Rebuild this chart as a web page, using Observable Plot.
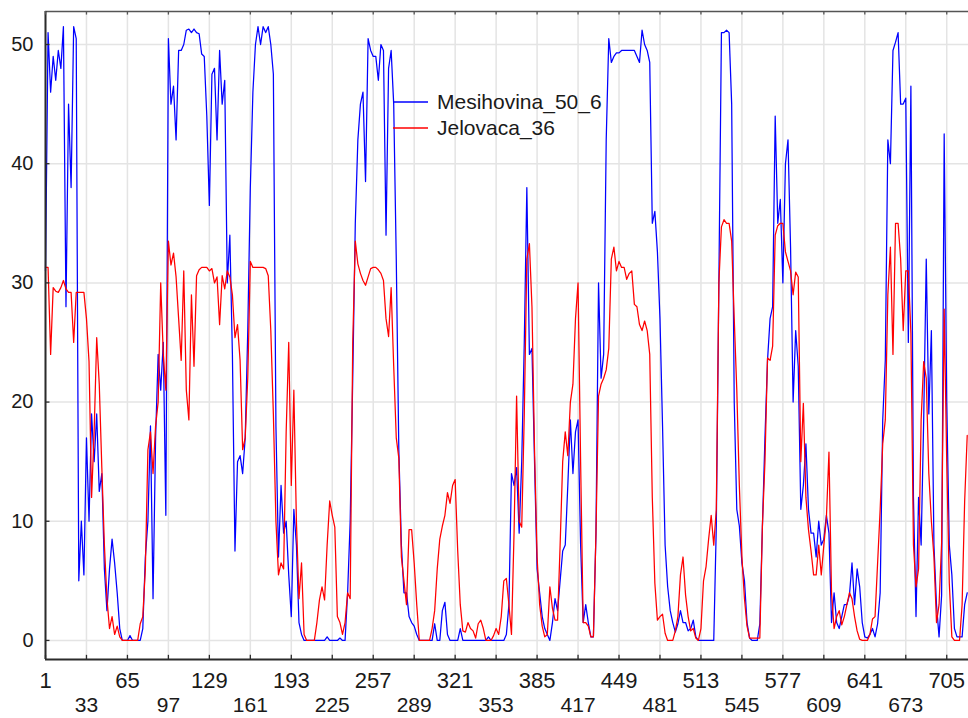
<!DOCTYPE html>
<html>
<head>
<meta charset="utf-8">
<script src="https://cdn.jsdelivr.net/npm/d3@7"></script>
<script src="https://cdn.jsdelivr.net/npm/@observablehq/plot@0.6"></script>
<style>
  html, body { margin: 0; padding: 0; background: #ffffff; }
  #chart { width: 968px; height: 718px; }
</style>
</head>
<body>
<div id="chart"></div>
<script>
// Series names
const seriesNames = ["Mesihovina_50_6", "Jelovaca_36"];

// Observation numbers (every second observation, 1..721)
const obsIndex = d3.range(1, 722, 2);

// Mesihovina_50_6 (blue) values
const mesihovina = [
  31, 51, 46, 49, 47, 49.5, 48, 51.5, 28, 45,
  38, 51.5, 50.5, 5, 10, 5.5, 17, 10, 19, 15,
  19, 12.5, 14, 6, 2.5, 6, 8.5, 6.5, 4, 1,
  0, 0, 0, 0.4, 0, 0, 0, 0, 1, 7,
  10, 18, 3.5, 17, 24, 21, 25, 10.5, 50.5, 45,
  46.5, 42, 49.5, 49.5, 50, 51.2, 51.3, 51, 51.3, 51,
  50.9, 49.2, 49, 44, 36.5, 47.5, 48, 42, 49.5, 45,
  47, 30, 34, 24, 7.5, 15, 15.5, 14, 17, 26,
  38, 46, 50, 51.5, 50, 51.5, 51, 51.5, 50, 47.5,
  18, 7, 13, 9, 10, 5.5, 2, 11, 8, 1.5,
  0.5, 0, 0, 0, 0, 0, 0, 0, 0, 0,
  0.3, 0, 0, 0, 0, 0.2, 0, 0, 4, 10,
  22, 35, 42, 45, 46, 38.5, 50.5, 49.5, 49, 49,
  47, 50, 49.5, 34, 48, 49.5, 45, 32, 16, 8,
  4, 4, 2, 1.5, 1.2, 0.5, 0, 0, 0, 0,
  0, 0, 1.4, 0, 0, 2.5, 3.2, 0.5, 0, 0,
  0, 0, 1, 0, 0, 0, 0, 0, 0, 0,
  0, 0, 0, 0.3, 0, 0, 0, 0, 0, 0,
  0.5, 3, 14, 13, 14.5, 9, 15, 25, 38, 24,
  24.5, 15, 6, 4, 2, 1, 0.5, 0, 1.5, 3.5,
  2.5, 5, 7.5, 8, 13, 18.5, 14, 17.5, 18.5, 8,
  1.5, 3, 1.5, 0.3, 0.3, 9, 30, 22, 24, 42,
  50.5, 48.5, 49, 49.3, 49.3, 49.5, 49.5, 49.5, 49.5, 49.5,
  49.5, 49, 48.5, 51.2, 50, 49.5, 48.5, 35, 36, 32.6,
  27, 18, 8, 4.5, 2.5, 1.5, 0.7, 1.4, 2.5, 1.5,
  1.5, 0.8, 1, 1.7, 0.3, 0, 0, 0, 0, 0,
  0, 0, 9.6, 30, 51, 51, 51.2, 51, 45, 20,
  11, 9.6, 6.5, 5, 1.5, 0.2, 0, 0, 0, 1.4,
  9.5, 17, 23.5, 27, 28, 44, 35, 37, 30, 40,
  42, 33, 20, 26, 23, 11, 13, 16.5, 11, 9,
  9, 7, 10, 8, 8.5, 10.5, 9, 1.5, 4, 1.5,
  1, 2, 3, 3, 3.8, 6.5, 3, 6, 4.5, 1.5,
  0.3, 0.2, 0.5, 1, 0.3, 1.4, 4, 18.5, 23.5, 42,
  40, 49.5, 50.2, 51, 45, 45, 45.5, 25, 46.5, 12,
  2, 12, 8, 18.5, 32, 19, 26, 8, 3, 0.3,
  3.8, 42.5, 20, 8, 5.5, 1, 0.3, 0.3, 0.3, 3,
  4
];

// Jelovaca_36 (red) values
const jelovaca = [
  31.3, 31.3, 24, 29.6, 29.3, 29.2, 29.6, 30.2, 29.5, 29.2,
  29.2, 25, 29.2, 29.2, 29.2, 29.2, 27, 23.4, 12, 17.5,
  25.4, 21.5, 14.5, 8, 3.5, 1, 2, 0.5, 1.2, 0.3,
  0, 0, 0, 0, 0, 0, 0, 1.4, 2, 6,
  16, 17.5, 14, 18, 20, 30, 24, 21, 33.5, 31.5,
  32.5, 30.5, 27, 23.5, 31, 21, 18.5, 29, 23, 30.6,
  31.1, 31.3, 31.3, 31.3, 31, 31.2, 30, 30.5, 26.5, 30.6,
  29.5, 31, 30.5, 29, 25.4, 26.5, 23.5, 16, 17, 22,
  31.8, 31.3, 31.3, 31.3, 31.3, 31.3, 31.2, 30.6, 26, 19,
  10, 5.5, 6.5, 6, 17.5, 25, 13, 21, 10, 3.5,
  6.5, 0.5, 0, 0, 0, 0, 1.5, 3.4, 4.5, 3.4,
  8, 11.7, 10.5, 9.5, 2, 1.5, 0.5, 1.5, 4, 3.5,
  25, 33.5, 31.6, 30.8, 30.2, 29.8, 30.5, 31.2, 31.3, 31.3,
  31.1, 30.8, 30.2, 27, 25.5, 29.6, 23, 17, 15.3, 7,
  5, 3, 9.3, 9.3, 6.5, 3, 0, 0, 0, 0,
  0, 1, 2.5, 6, 8.5, 9.6, 10.5, 12.4, 11.5, 13,
  13.5, 7.5, 3, 0.8, 0.7, 1.5, 1, 0.8, 0.2, 1.4,
  1.7, 1, 0, 0, 0, 0.4, 1, 0.5, 2, 5,
  5.2, 3, 0.5, 9, 20.5, 10, 9.5, 19, 32, 33.3,
  28, 16, 7, 3, 1.2, 0.3, 0.5, 4.5, 2.7, 1.7,
  1.7, 8, 15, 17.5, 15.5, 20, 21.5, 27, 30, 15,
  1.5, 1.5, 1.2, 0.3, 0.3, 9, 20.5, 21.5, 22, 22.7,
  24.5, 32, 33, 31, 31.8, 31.3, 31.3, 30.3, 30.8, 31,
  28.2, 28, 26.5, 26, 26.8, 26, 24, 12, 4.8, 1.7,
  2, 2.2, 0.6, 0, 0, 0, 0.8, 2, 5.5, 7,
  3.8, 2, 0.8, 1, 0.2, 0, 1, 5, 6.2, 8.5,
  10.5, 8, 11, 30, 34.7, 35.3, 35, 35, 33.5, 27,
  21, 13, 7, 3.5, 1.2, 0.2, 0.2, 0.2, 0.2, 0.2,
  9.6, 15, 23.7, 23.5, 24.7, 34, 34.8, 35, 35, 32.6,
  31.8, 31, 29, 30.9, 30.5, 15, 19.9, 12, 9.3, 7.5,
  5.5, 5.5, 8, 5.5, 8, 10.3, 15.8, 4, 1, 2,
  2.5, 1.3, 2, 3, 4, 3.5, 2, 0.8, 0.1, 0,
  0, 0, 0.5, 1.8, 2, 6.5, 11, 16.5, 18.5, 29,
  33, 24, 35, 35, 32, 26, 31, 31, 25.8, 8,
  4.5, 6, 18.5, 23.4, 22, 14, 10, 7, 1.5, 3,
  8.2, 27.8, 15, 4.8, 0.3, 0, 0, 0, 3, 11.7,
  17.2
];

// Tick values
const xTicksRow1 = [1, 65, 129, 193, 257, 321, 385, 449, 513, 577, 641, 705];
const xTicksRow2 = [33, 97, 161, 225, 289, 353, 417, 481, 545, 609, 673];
const xTicksAll = [...xTicksRow1, ...xTicksRow2].sort((a, b) => a - b);
const yTicks = [0, 10, 20, 30, 40, 50];

const xDomain = [1, 722];
const yDomain = [-1.6, 52.77];

const colors = {"Mesihovina_50_6": "#0000ff", "Jelovaca_36": "#ff0000"};

const mesData = mesihovina.map((v, i) => ({obs: obsIndex[i], value: v}));
const jelData = jelovaca.map((v, i) => ({obs: obsIndex[i], value: v}));

const axisColor = "#2b2b2b";
const gridColor = "#e4e4e4";

const chart = Plot.plot({
  width: 968,
  height: 718,
  marginLeft: 45,
  marginRight: 0,
  marginTop: 11,
  marginBottom: 59,
  style: {
    background: "#ffffff",
    color: "#1a1a1a",
    fontFamily: "'Liberation Sans', Arial, sans-serif"
  },
  x: {domain: xDomain, label: null},
  y: {domain: yDomain, label: null},
  marks: [
    Plot.gridX(xTicksAll, {stroke: gridColor, strokeOpacity: 1, strokeWidth: 1.5}),
    Plot.gridY(yTicks, {stroke: gridColor, strokeOpacity: 1, strokeWidth: 1.5}),
    Plot.line(mesData, {x: "obs", y: "value", stroke: colors["Mesihovina_50_6"], strokeWidth: 1.25}),
    Plot.line(jelData, {x: "obs", y: "value", stroke: colors["Jelovaca_36"], strokeWidth: 1.25}),
    // frame lines
    Plot.ruleY([yDomain[0]], {stroke: axisColor, strokeWidth: 2}),
    Plot.ruleY([yDomain[1]], {stroke: "#555555", strokeWidth: 1.5}),
    Plot.ruleX([xDomain[0]], {stroke: axisColor, strokeWidth: 2}),
    // inward tick marks
    Plot.ruleX(xTicksAll, {y1: yDomain[0], y2: yDomain[0] + 0.35, stroke: axisColor, strokeWidth: 1.3}),
    Plot.ruleX(xTicksAll, {y1: yDomain[1], y2: yDomain[1] - 0.3, stroke: "#555555", strokeWidth: 1.3}),
    Plot.ruleY(yTicks, {x1: xDomain[0], x2: xDomain[0] + 3.5, stroke: axisColor, strokeWidth: 1.3}),
    // axes labels
    Plot.axisX(xTicksRow1, {anchor: "bottom", tickSize: 0, tickPadding: 13, fontSize: 22, tickFormat: d => String(d)}),
    Plot.axisX(xTicksRow2, {anchor: "bottom", tickSize: 0, tickPadding: 37.5, fontSize: 21, tickFormat: d => String(d)}),
    Plot.axisY(yTicks, {anchor: "left", tickSize: 0, tickPadding: 12, fontSize: 20, tickFormat: d => String(d)})
  ]
});

// Legend inside the plot area
const svg = d3.select(chart);
const legend = svg.append("g")
  .attr("font-family", "'Liberation Sans', Arial, sans-serif")
  .attr("font-size", 21)
  .attr("text-anchor", "start");
seriesNames.forEach((name, i) => {
  const yy = 102 + i * 26;
  legend.append("line")
    .attr("x1", 393).attr("x2", 428).attr("y1", yy).attr("y2", yy)
    .attr("stroke", colors[name]).attr("stroke-width", 1.3);
  legend.append("text")
    .attr("x", 437).attr("y", yy).attr("dy", "0.35em")
    .attr("text-anchor", "start")
    .attr("fill", "#1a1a1a").text(name);
});

document.getElementById("chart").appendChild(chart);
</script>
</body>
</html>
